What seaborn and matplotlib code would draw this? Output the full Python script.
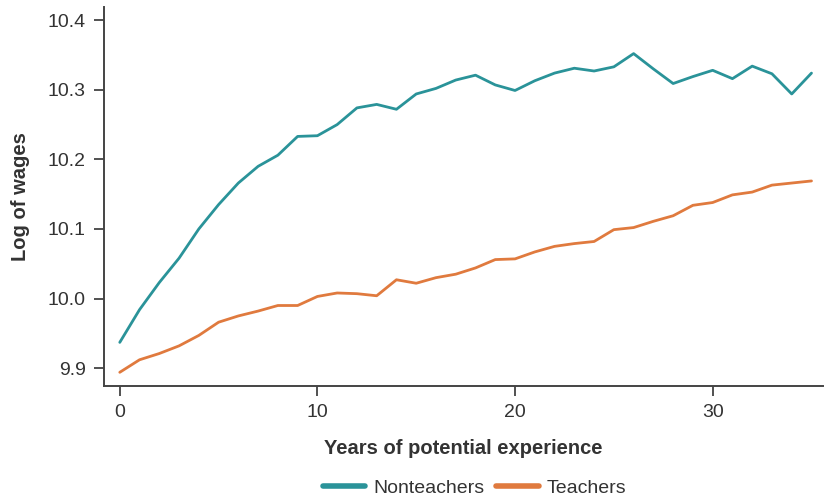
import matplotlib
matplotlib.use("Agg")
import matplotlib.pyplot as plt
import seaborn as sns
import pandas as pd

# Log wages by years of potential experience
years = list(range(36))
nonteachers = [
    9.937, 9.984, 10.023, 10.058, 10.100, 10.135, 10.166, 10.190, 10.206, 10.233,
    10.234, 10.250, 10.274, 10.279, 10.272, 10.294, 10.302, 10.314, 10.321, 10.307,
    10.299, 10.313, 10.324, 10.331, 10.327, 10.333, 10.352, 10.330, 10.309, 10.319,
    10.328, 10.316, 10.334, 10.323, 10.294, 10.324,
]
teachers = [
    9.894, 9.912, 9.921, 9.932, 9.947, 9.966, 9.975, 9.982, 9.990, 9.990,
    10.003, 10.008, 10.007, 10.004, 10.027, 10.022, 10.030, 10.035, 10.044, 10.056,
    10.057, 10.067, 10.075, 10.079, 10.082, 10.099, 10.102, 10.111, 10.119, 10.134,
    10.138, 10.149, 10.153, 10.163, 10.166, 10.169,
]
groups = ["Nonteachers", "Teachers"]
colors = ["#2a9399", "#e07a3e"]

df = pd.DataFrame({
    "Years": years * 2,
    "Log of wages": nonteachers + teachers,
    "Group": [groups[0]] * len(years) + [groups[1]] * len(years),
})

sns.set_theme(style="ticks")
plt.rcParams["font.family"] = ["Liberation Sans", "DejaVu Sans"]
text_col = "#333333"

fig = plt.figure(figsize=(8.25, 4.99), dpi=100)
ax = fig.add_axes([0.126, 0.226, 0.872, 0.76])

sns.lineplot(data=df, x="Years", y="Log of wages", hue="Group",
             palette=colors, linewidth=2.0, ax=ax)

ax.set_xlim(-0.8, 35.6)
ax.set_ylim(9.874, 10.419)
ax.set_xticks([0, 10, 20, 30])
ax.set_yticks([9.9, 10.0, 10.1, 10.2, 10.3, 10.4])
ax.set_yticklabels(["9.9", "10.0", "10.1", "10.2", "10.3", "10.4"])

ax.tick_params(axis="both", labelsize=14, colors=text_col, length=7, width=1.2, pad=6)
for s in ["left", "bottom"]:
    ax.spines[s].set_color("#444444")
    ax.spines[s].set_linewidth(1.4)
sns.despine(ax=ax)

ax.set_xlabel("Years of potential experience", fontsize=14.5, fontweight="bold",
              color=text_col, labelpad=13)
ax.set_ylabel("Log of wages", fontsize=14.5, fontweight="bold", color=text_col, labelpad=13)

ax.legend(loc="center", bbox_to_anchor=(0.515, -0.268), ncol=2, frameon=False,
          fontsize=14, handlelength=2.2, handletextpad=0.4, columnspacing=0.6,
          labelcolor=text_col)
for h in ax.get_legend().legend_handles:
    h.set_linewidth(4)

fig.savefig("out.png", dpi=100)
